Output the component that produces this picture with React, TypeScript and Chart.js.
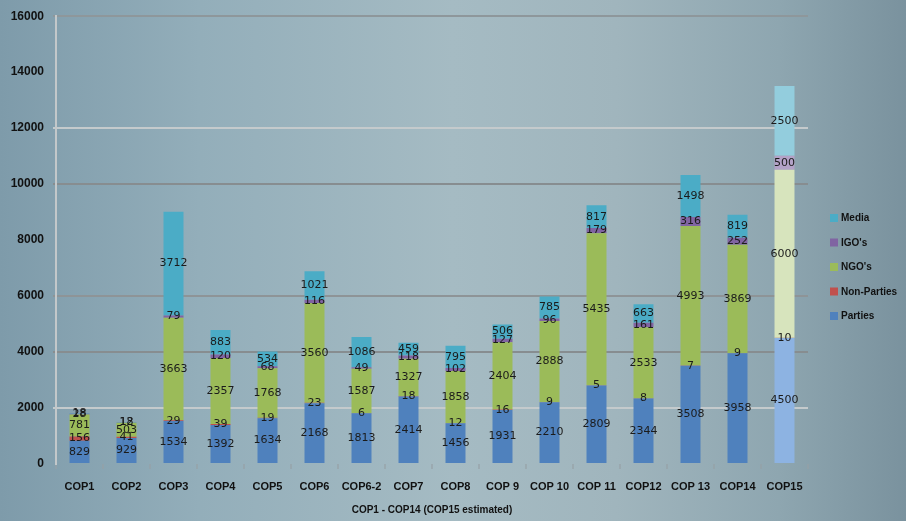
import React, { useEffect, useRef } from "react";
import { Chart, registerables } from "chart.js";

Chart.register(...registerables);

const categories = ["COP1", "COP2", "COP3", "COP4", "COP5", "COP6", "COP6-2", "COP7", "COP8", "COP 9", "COP 10", "COP 11", "COP12", "COP 13", "COP14", "COP15"];
const parties = [829, 929, 1534, 1392, 1634, 2168, 1813, 2414, 1456, 1931, 2210, 2809, 2344, 3508, 3958, 4500];
const nonParties = [156, 41, 29, 39, 19, 23, 6, 18, 12, 16, 9, 5, 8, 7, 9, 10];
const ngos = [781, 503, 3663, 2357, 1768, 3560, 1587, 1327, 1858, 2404, 2888, 5435, 2533, 4993, 3869, 6000];
const igos = [28, 12, 79, 120, 68, 116, 49, 118, 102, 127, 96, 179, 161, 316, 252, 500];
const media = [18, 18, 3712, 883, 534, 1021, 1086, 459, 795, 506, 785, 817, 663, 1498, 819, 2500];
const yTicks = [0, 2000, 4000, 6000, 8000, 10000, 12000, 14000, 16000];
const axisTitle = "COP1 - COP14 (COP15 estimated)";

const seriesStyle = [
  { label: "Parties", data: parties, color: "#4f81bd", est: "#8db3e2" },
  { label: "Non-Parties", data: nonParties, color: "#c0504d", est: "#e8a58c" },
  { label: "NGO's", data: ngos, color: "#9bbb59", est: "#d7e4bd" },
  { label: "IGO's", data: igos, color: "#8064a2", est: "#b3a2c7" },
  { label: "Media", data: media, color: "#4bacc6", est: "#93cddd" },
];

const gridColors: Record<number, string> = {
  16000: "#8e979b",
  14000: "rgba(0,0,0,0)",
  12000: "#c4cacc",
  10000: "#878d90",
  8000: "rgba(0,0,0,0)",
  6000: "#8e9497",
  4000: "#878d90",
  2000: "#c4cacc",
  0: "rgba(0,0,0,0)",
};

const valueLabels = {
  id: "valueLabels",
  afterDatasetsDraw(chart: any) {
    const ctx = chart.ctx;
    ctx.save();
    ctx.font = "11px 'DejaVu Sans'";
    ctx.fillStyle = "#1b1b1b";
    ctx.textAlign = "center";
    ctx.textBaseline = "middle";
    chart.data.datasets.forEach((ds: any, di: number) => {
      const meta = chart.getDatasetMeta(di);
      meta.data.forEach((el: any, i: number) => {
        const p = el.getProps(["x", "y", "base"], true);
        ctx.fillText(String(ds.data[i]), p.x, (p.y + p.base) / 2);
      });
    });
    ctx.restore();
  },
};

const customLegend = {
  id: "customLegend",
  afterDraw(chart: any) {
    const ctx = chart.ctx;
    ctx.save();
    ctx.font = "bold 10px 'Liberation Sans'";
    ctx.textAlign = "left";
    ctx.textBaseline = "middle";
    const items = [...chart.data.datasets].reverse();
    const x = chart.chartArea.right + 22;
    items.forEach((ds: any, i: number) => {
      const y = 218 + i * 24.5;
      ctx.fillStyle = ds.legendColor;
      ctx.fillRect(x, y - 4, 8, 8);
      ctx.fillStyle = "#111";
      ctx.fillText(ds.label, x + 11, y + 0.5);
    });
    ctx.restore();
  },
};

export default function App() {
  const ref = useRef<HTMLCanvasElement>(null);
  useEffect(() => {
    if (!ref.current) return;
    const last = categories.length - 1;
    const chart = new Chart(ref.current, {
      type: "bar",
      data: {
        labels: categories,
        datasets: seriesStyle.map((s) => ({
          label: s.label,
          data: s.data,
          legendColor: s.color,
          backgroundColor: categories.map((_, i) => (i === last ? s.est : s.color)),
          borderWidth: 0,
          barPercentage: 0.425,
          categoryPercentage: 1,
        })) as any,
      },
      options: {
        responsive: false,
        animation: false,
        layout: { padding: { top: 14, right: 98, bottom: 0, left: 0 } },
        plugins: {
          legend: { display: false },
          tooltip: { enabled: false },
        },
        scales: {
          x: {
            stacked: true,
            afterFit: (s: any) => {
              s.height = 57;
            },
            grid: {
              drawOnChartArea: false,
              drawTicks: true,
              tickLength: 5,
              color: "rgba(150,160,165,0.6)",
              lineWidth: 2,
            },
            border: { display: false },
            ticks: {
              color: "#111",
              font: { family: "'Liberation Sans'", size: 11, weight: "bold" },
              padding: 11,
              maxRotation: 0,
              autoSkip: false,
            },
            title: {
              display: true,
              text: axisTitle,
              color: "#111",
              font: { family: "'Liberation Sans'", size: 10, weight: "bold" },
              padding: { top: 0, bottom: 5 },
            },
          },
          y: {
            stacked: true,
            min: 0,
            max: 16000,
            afterFit: (s: any) => {
              s.width = 56;
            },
            afterBuildTicks: (s: any) => {
              s.ticks = yTicks.map((v) => ({ value: v }));
            },
            grid: {
              color: (c: any) => gridColors[c.tick?.value] ?? "rgba(0,0,0,0)",
              lineWidth: 2,
              drawTicks: true,
              tickLength: 3,
            },
            border: { display: true, color: "#c3c8ca", width: 2 },
            ticks: {
              color: "#111",
              font: { family: "'Liberation Sans'", size: 12, weight: "bold" },
              padding: 9,
              callback: (v: any) => String(v),
            },
          },
        },
      },
      plugins: [valueLabels, customLegend],
    });
    return () => chart.destroy();
  }, []);

  return (
    <div
      style={{
        position: "fixed",
        left: 0,
        top: 0,
        width: 906,
        height: 521,
        background:
          "linear-gradient(90deg, #7e9baa 0%, #93aeba 22%, #a5bbc3 50%, #a0b5bd 68%, #8ea6b0 86%, #7a929e 100%)",
      }}
    >
      <canvas ref={ref} width={906} height={521} style={{ display: "block" }} />
    </div>
  );
}
